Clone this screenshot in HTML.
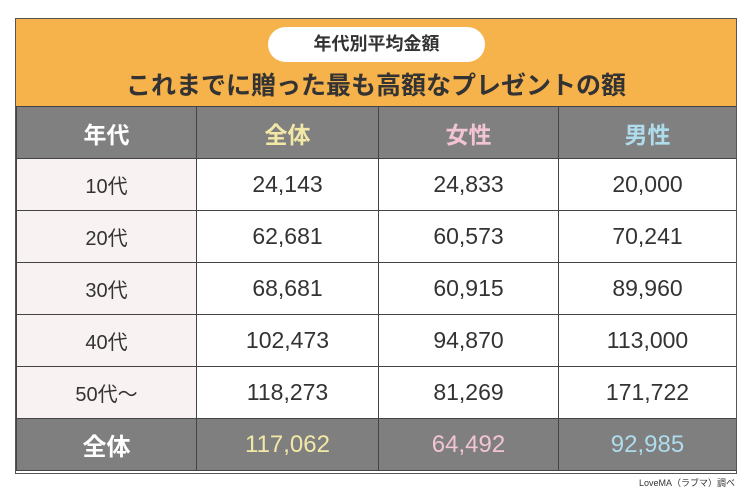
<!DOCTYPE html>
<html><head><meta charset="utf-8"><style>
body{margin:0;width:750px;height:488px;background:#fff;font-family:"Liberation Sans","Noto Sans CJK JP",sans-serif;position:relative;overflow:hidden}
.box{position:absolute;left:15px;top:18px;width:722px;height:456px;border:1.5px solid #555;box-sizing:border-box}
.hdr{position:absolute;left:16px;top:19px;width:720px;height:87px;background:#F6B24B}
.pill{position:absolute;left:268px;top:27px;width:217px;height:35px;background:#fff;border-radius:18px;text-align:center;line-height:35px;font-size:18px;font-weight:bold;color:#333}
.title{position:absolute;left:16px;top:66px;width:720px;text-align:center;font-size:25px;font-weight:bold;color:#333;line-height:40px}
table{position:absolute;left:16px;top:106px;width:720px;border-collapse:collapse;table-layout:fixed}
td{border:1.5px solid #444;text-align:center;font-size:23px;color:#333;padding:0}
tr.h td{background:#808080;height:51px;color:#fff;font-weight:bold;font-size:23px}
tr.r td{height:51px;background:#fff}
tr.r td:first-child{background:#F8F2F2;font-size:20px}
tr.t td{background:#7f7f7f;height:51px;font-size:24px}
tr td.y{color:#F3E9A7}tr td.p{color:#F2C4D4}tr td.b{color:#AEDCEC}
.foot{position:absolute;right:15px;top:476px;font-size:9px;color:#333}
</style></head><body>
<div class="hdr"></div>
<div class="pill">年代別平均金額</div>
<div class="title">これまでに贈った最も高額なプレゼントの額</div>
<table>
<colgroup><col style="width:180px"><col style="width:182px"><col style="width:180px"><col style="width:178px"></colgroup>
<tr class="h"><td>年代</td><td class="y">全体</td><td class="p">女性</td><td class="b">男性</td></tr>
<tr class="r"><td>10代</td><td>24,143</td><td>24,833</td><td>20,000</td></tr>
<tr class="r"><td>20代</td><td>62,681</td><td>60,573</td><td>70,241</td></tr>
<tr class="r"><td>30代</td><td>68,681</td><td>60,915</td><td>89,960</td></tr>
<tr class="r"><td>40代</td><td>102,473</td><td>94,870</td><td>113,000</td></tr>
<tr class="r"><td>50代〜</td><td>118,273</td><td>81,269</td><td>171,722</td></tr>
<tr class="t"><td style="color:#fff;font-weight:bold">全体</td><td class="y">117,062</td><td class="p">64,492</td><td class="b">92,985</td></tr>
</table>
<div class="box"></div>
<div class="foot">LoveMA（ラブマ）調べ</div>
</body></html>
